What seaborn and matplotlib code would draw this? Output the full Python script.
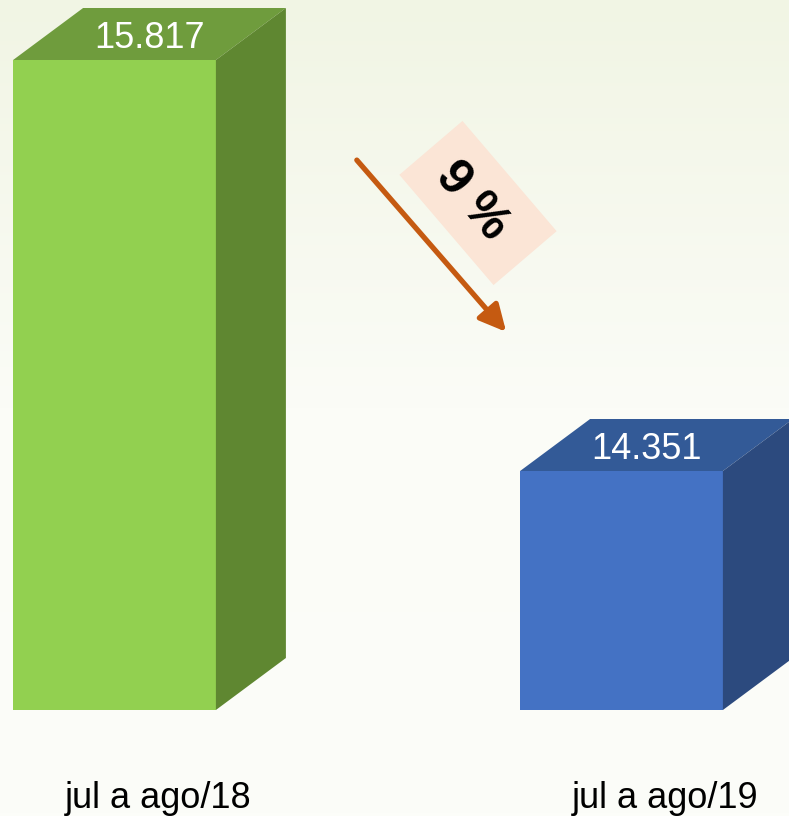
import numpy as np
import pandas as pd
import matplotlib
matplotlib.use("Agg")
import matplotlib.pyplot as plt
from matplotlib.patches import Polygon
import seaborn as sns

# data
periods = ["jul a ago/18", "jul a ago/19"]
values = [15817, 14351]
value_labels = ["15.817", "14.351"]
change_label = "9 %"

front_colors = ["#92d050", "#4472c4"]
top_colors = ["#6f9c3d", "#335a97"]
side_colors = ["#5f8731", "#2c4a7e"]

W, H = 789, 816
sns.set_theme(style="white")
plt.rcParams["font.family"] = ["Liberation Sans", "DejaVu Sans"]

fig = plt.figure(figsize=(W / 100, H / 100), dpi=100)

# background gradient
bg = fig.add_axes([0, 0, 1, 1], zorder=0)
grad = np.linspace(0, 1, 256).reshape(-1, 1)
cmap = matplotlib.colors.LinearSegmentedColormap.from_list("bg", ["#f1f5e4", "#fbfcf7", "#fcfdf9"])
bg.imshow(grad, aspect="auto", cmap=cmap, extent=[0, 1, 0, 1], origin="upper")
bg.set_axis_off()

# main axes: bottom of bars at pixel y=710
ax = fig.add_axes([0, (H - 710) / H, 1, 710 / H], zorder=1)
ax.patch.set_alpha(0)

df = pd.DataFrame({"period": periods, "value": values})
sns.barplot(data=df, x="period", y="value", hue="period", palette=front_colors,
            width=0.4, legend=False, ax=ax, saturation=1)

px_per_unit = 507.0            # pixels per x category step
val_per_px = (values[0] - values[1]) / 411.0
base = values[0] - 650 * val_per_px
ax.set_ylim(base, values[0] + 60 * val_per_px)
ax.set_xlim(-114.5 / px_per_unit, 1 + (W - 621.5) / px_per_unit)

dx = 70 / px_per_unit
dy = 52 * val_per_px

for i, bar in enumerate(ax.patches):
    x0 = bar.get_x()
    x1 = x0 + bar.get_width()
    top = bar.get_height()
    bar.set_edgecolor("none")
    top_face = Polygon([(x0, top), (x1, top), (x1 + dx, top + dy), (x0 + dx, top + dy)],
                       closed=True, fc=top_colors[i], ec="none", clip_on=False, zorder=3)
    side_face = Polygon([(x1, base), (x1 + dx, base + dy), (x1 + dx, top + dy), (x1, top)],
                        closed=True, fc=side_colors[i], ec="none", clip_on=False, zorder=3)
    ax.add_patch(top_face)
    ax.add_patch(side_face)
    ax.text((x0 + x1) / 2 + dx / 2 - (0 if i == 0 else 0.02), top + dy / 2 - 4 * val_per_px,
            value_labels[i], ha="center", va="center", color="white", fontsize=26, zorder=4)

# category labels under bars
for i, lab in enumerate(periods):
    ax.text(i + 0.087, -0.125, lab, transform=ax.get_xaxis_transform(),
            ha="center", va="center", fontsize=26, color="black")

ax.set_axis_off()

# annotation: arrow and rotated box (figure pixel coords)
def fpx(x, y):
    return (x / W, 1 - y / H)

cx, cy, L, S = 478, 203, 145, 83
ang = np.deg2rad(49.5)
u = np.array([np.cos(ang), np.sin(ang)])
v = np.array([-np.sin(ang), np.cos(ang)])
corners = []
for a, b in [(-1, -1), (1, -1), (1, 1), (-1, 1)]:
    p = np.array([cx, cy]) + a * L / 2 * u + b * S / 2 * v
    corners.append(fpx(*p))
fig.patches.append(Polygon(corners, closed=True, fc="#fbe5d6", ec="none",
                           transform=fig.transFigure, zorder=5))
fig.text(*fpx(cx - 6, cy - 2), change_label, rotation=-49.5, rotation_mode="anchor",
         ha="center", va="center", fontsize=36, fontweight="bold", color="black", zorder=6)

fig.patches.append(matplotlib.patches.FancyArrowPatch(
    fpx(355, 158), fpx(508, 334), transform=fig.transFigure,
    arrowstyle="-|>,head_length=16,head_width=8", mutation_scale=1,
    lw=3.8, color="#c55a11", zorder=6))

fig.savefig("out.png", dpi=100)
